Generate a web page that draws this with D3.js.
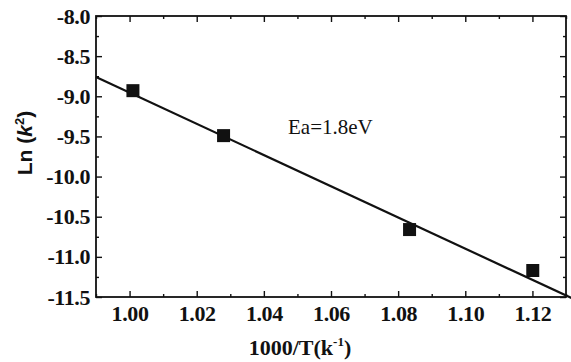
<!DOCTYPE html>
<html>
<head>
<meta charset="utf-8">
<script src="https://cdn.jsdelivr.net/npm/d3@7"></script>
<style>
  body { margin: 0; background: #fff; }
  svg { display: block; }
</style>
</head>
<body>
<svg width="571" height="362"></svg>
<script>
// measured points
const invT = [1.001, 1.028, 1.0834, 1.1201];
const lnK = [-8.93, -9.49, -10.66, -11.17];
// linear fit, endpoints
const fitX = [0.99, 1.132];
const fitY = [-8.76, -11.52];

const xTicks = [1.00, 1.02, 1.04, 1.06, 1.08, 1.10, 1.12];
const yTicks = [-8.0, -8.5, -9.0, -9.5, -10.0, -10.5, -11.0, -11.5];

const serif = "'Liberation Serif', 'Times New Roman', serif";

const $svg = d3.select("svg");
const width = +$svg.attr("width");
const height = +$svg.attr("height");
const margin = { top: 16, right: 5, bottom: 65, left: 96 };

const x = d3.scaleLinear().domain([0.99, 1.13]).range([margin.left, width - margin.right]);
const y = d3.scaleLinear().domain([-11.5, -8.0]).range([height - margin.bottom, margin.top]);

const xMinor = d3.range(0.99, 1.1301, 0.01).filter(v => !xTicks.some(t => Math.abs(t - v) < 1e-6));
const yMinor = d3.range(-11.25, -8.0, 0.5);

function axisGroup(axis, tx, ty) {
  const g = $svg.append("g").attr("transform", `translate(${tx},${ty})`).call(axis);
  g.select(".domain").remove();
  g.selectAll("line").attr("stroke", "#111").attr("stroke-width", 1.4);
  g.selectAll("text")
    .attr("font-family", serif)
    .attr("font-weight", "bold")
    .attr("font-size", 22)
    .attr("letter-spacing", "-0.4")
    .attr("fill", "#111");
  return g;
}

const bottom = height - margin.bottom;
const right = width - margin.right;

// bottom axis with labels (ticks point inward)
axisGroup(d3.axisBottom(x).tickValues(xTicks).tickSizeInner(-6).tickSizeOuter(0).tickPadding(8).tickFormat(d => d.toFixed(2)), 0, bottom);
axisGroup(d3.axisBottom(x).tickValues(xMinor).tickSizeInner(-3).tickSizeOuter(0).tickFormat(""), 0, bottom);
// top axis
axisGroup(d3.axisTop(x).tickValues(xTicks).tickSizeInner(-6).tickSizeOuter(0).tickFormat(""), 0, margin.top);
axisGroup(d3.axisTop(x).tickValues(xMinor).tickSizeInner(-3).tickSizeOuter(0).tickFormat(""), 0, margin.top);
// left axis with labels
axisGroup(d3.axisLeft(y).tickValues(yTicks).tickSizeInner(-6).tickSizeOuter(0).tickPadding(6).tickFormat(d => d.toFixed(1)), margin.left, 0);
axisGroup(d3.axisLeft(y).tickValues(yMinor).tickSizeInner(-3).tickSizeOuter(0).tickFormat(""), margin.left, 0);
// right axis
axisGroup(d3.axisRight(y).tickValues(yTicks).tickSizeInner(-6).tickSizeOuter(0).tickFormat(""), right, 0);
axisGroup(d3.axisRight(y).tickValues(yMinor).tickSizeInner(-3).tickSizeOuter(0).tickFormat(""), right, 0);

// frame
$svg.append("rect")
  .attr("x", margin.left).attr("y", margin.top)
  .attr("width", right - margin.left).attr("height", bottom - margin.top)
  .attr("fill", "none").attr("stroke", "#111").attr("stroke-width", 1.8);

// fit line
$svg.append("path")
  .datum(d3.zip(fitX, fitY))
  .attr("d", d3.line().x(d => x(d[0])).y(d => y(d[1])))
  .attr("fill", "none").attr("stroke", "#111").attr("stroke-width", 2.2);

// markers
const sq = 13;
$svg.append("g").selectAll("rect")
  .data(d3.zip(invT, lnK))
  .enter()
  .append("rect")
  .attr("x", d => x(d[0]) - sq / 2)
  .attr("y", d => y(d[1]) - sq / 2)
  .attr("width", sq).attr("height", sq)
  .attr("fill", "#111");

// annotation
$svg.append("text")
  .attr("x", 288).attr("y", 134)
  .attr("font-family", serif)
  .attr("font-size", 21)
  .attr("fill", "#111")
  .text("Ea=1.8eV");

// x title
const xt = $svg.append("text")
  .attr("x", 300).attr("y", 355)
  .attr("text-anchor", "middle")
  .attr("font-family", serif)
  .attr("font-weight", "bold").attr("font-size", 22)
  .attr("fill", "#111");
xt.append("tspan").text("1000/T(k");
xt.append("tspan").attr("dy", -9).attr("font-size", 13).text("-1");
xt.append("tspan").attr("dy", 9).text(")");

// y title
const yt = $svg.append("text")
  .attr("transform", "translate(32,143) rotate(-90)")
  .attr("text-anchor", "middle")
  .attr("font-family", "'Liberation Sans', Arial, sans-serif")
  .attr("font-weight", "bold").attr("font-size", 21)
  .attr("fill", "#111");
yt.append("tspan").text("Ln (");
yt.append("tspan").attr("font-style", "italic").text("k");
yt.append("tspan").attr("dy", -8).attr("font-size", 13).text("2");
yt.append("tspan").attr("dy", 8).text(")");
</script>
</body>
</html>
